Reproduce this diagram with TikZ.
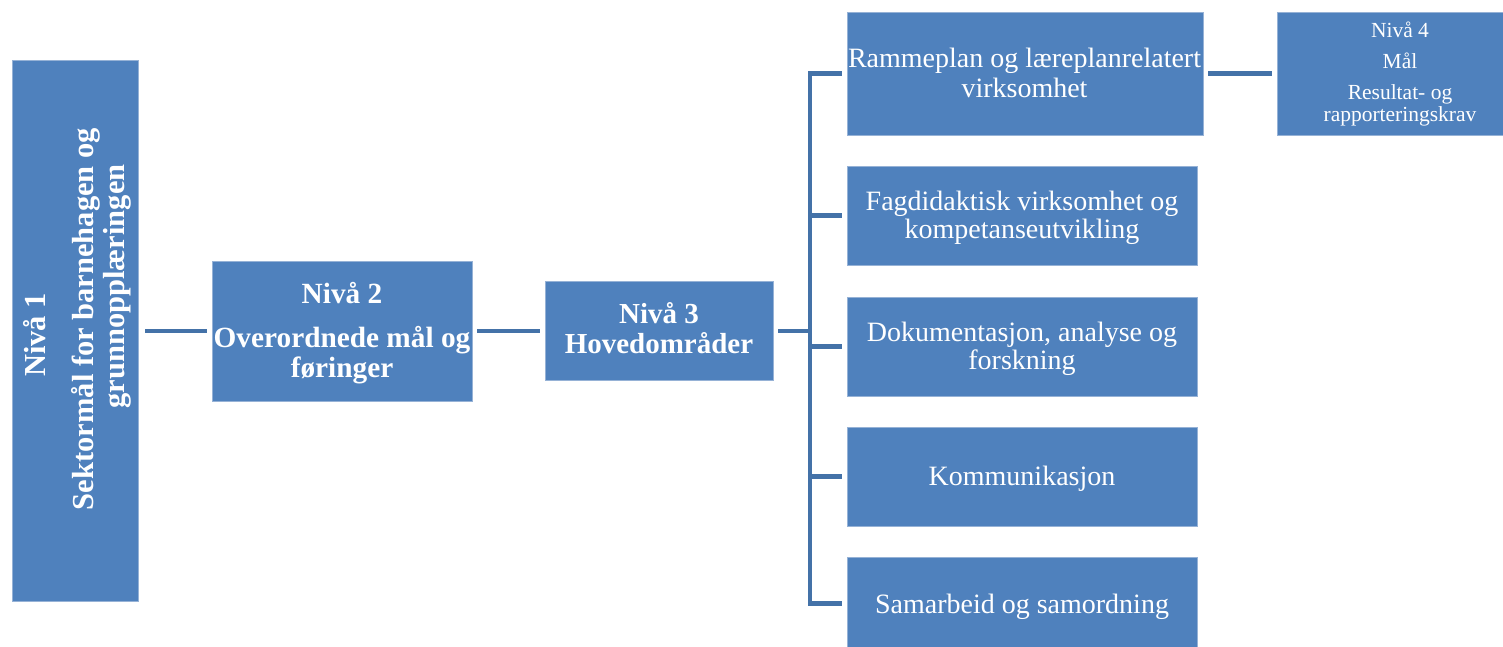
\documentclass[tikz,border=0pt]{standalone}
\usepackage{fontspec}
\setmainfont{Liberation Serif}
\definecolor{boxblue}{HTML}{4F81BD}
\definecolor{connblue}{RGB}{68,114,168}
\definecolor{boxedge}{RGB}{150,178,214}
\tikzset{
  box/.style={fill=boxblue, draw=boxedge, line width=0.8pt, inner sep=0pt},
  conn/.style={draw=connblue, line width=4.5pt},
  txt/.style={text=white, inner sep=0pt, align=center},
}
\begin{document}
\begin{tikzpicture}[x=1pt,y=-1pt]
\useasboundingbox (0,0) rectangle (1503,646);
\fill[white] (0,0) rectangle (1503,646);
\clip (0,0) rectangle (1503,646);
% boxes
\node[box, minimum width=126, minimum height=541] (b1) at (75,330.5) {};
\node[box, minimum width=260, minimum height=140] (b2) at (342,331) {};
\node[box, minimum width=228, minimum height=99] (b3) at (659,330.5) {};
\node[box, minimum width=356, minimum height=123] (r1) at (1025,73.5) {};
\node[box, minimum width=246, minimum height=123] (n4) at (1400,73.5) {};
\node[box, minimum width=350, minimum height=99] (f) at (1022,215.5) {};
\node[box, minimum width=350, minimum height=99] (d) at (1022,346.5) {};
\node[box, minimum width=350, minimum height=99] (k) at (1022,476.5) {};
\node[box, minimum width=350, minimum height=93] (s) at (1022,603.5) {};
% texts
\node[txt, anchor=north, rotate=90, font=\fontsize{30.5}{31}\selectfont\bfseries] (t1) at (21,335)
  {\rule{0pt}{24pt}Nivå 1\\[17pt]\hspace*{32pt}Sektormål for barnehagen og\\\hspace*{97pt}grunnopplæringen};
\node[txt, anchor=north, font=\fontsize{29.3}{30}\selectfont\bfseries] (t2) at (342,279)
  {\rule{0pt}{24pt}Nivå 2\\[14pt]Overordnede mål og\\føringer};
\node[txt, anchor=north, font=\fontsize{29}{30}\selectfont\bfseries] (t3) at (659,299)
  {\rule{0pt}{24pt}Nivå 3\\Hovedområder};
\node[txt, anchor=north, font=\fontsize{28}{30}\selectfont] (tr1) at (1024.5,43)
  {\rule{0pt}{24pt}Rammeplan og læreplanrelatert\\virksomhet};
\node[txt, anchor=north, font=\fontsize{28}{28.5}\selectfont] (tf) at (1022,186)
  {\rule{0pt}{24pt}Fagdidaktisk virksomhet og\\kompetanseutvikling};
\node[txt, anchor=north, font=\fontsize{28}{28.5}\selectfont] (td) at (1022,317)
  {\rule{0pt}{24pt}Dokumentasjon, analyse og\\forskning};
\node[txt, anchor=base, font=\fontsize{28}{30}\selectfont] (tk) at (1022,485) {Kommunikasjon};
\node[txt, anchor=base, font=\fontsize{28}{30}\selectfont] (ts) at (1022,613) {Samarbeid og samordning};
\node[txt, anchor=north, font=\fontsize{21.5}{22}\selectfont] (tn4) at (1400,13)
  {\rule{0pt}{24pt}Nivå 4\\[9.5pt]Mål\\[9pt]Resultat- og\\rapporteringskrav};
% connectors
\coordinate (busx) at (810,0);
\draw[conn, shorten <=7pt, shorten >=5pt] (b1.east |- b2.west) -- (b2.west);
\draw[conn, shorten <=5pt, shorten >=5pt] (b2.east) -- (b3.west |- b2.east);
\draw[conn, shorten <=5pt] (b3.east |- b2.east) -- (b2.east -| busx);
\draw[conn, shorten <=5pt, shorten >=5pt] (r1.west) -- (r1.west -| busx) -- (s.west -| busx) -- (s.west);
\foreach \n in {f,d,k} \draw[conn, shorten >=5pt] (\n.west -| busx) -- (\n.west);
\draw[conn, shorten <=5pt, shorten >=5pt] (r1.east) -- (n4.west);
\end{tikzpicture}
\end{document}
